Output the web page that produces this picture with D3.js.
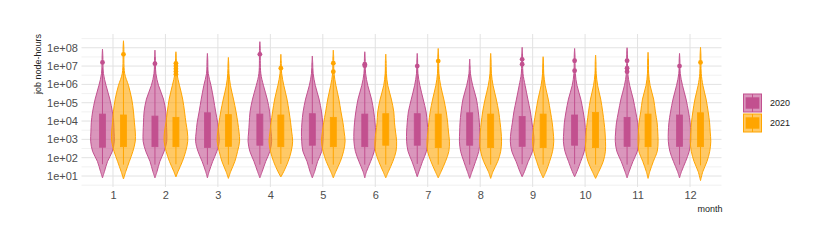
<!DOCTYPE html>
<html>
<head>
<meta charset="utf-8">
<script src="https://cdn.jsdelivr.net/npm/d3@7"></script>
<style>
  html, body { margin: 0; padding: 0; background: #fff; }
  svg { display: block; font-family: "Liberation Sans", Arial, Helvetica, sans-serif; }
</style>
</head>
<body>
<svg id="chart" width="830" height="249"></svg>
<script>
// ---------------- DATA (values are log10 of job node-hours) ----------------
const months = ["1","2","3","4","5","6","7","8","9","10","11","12"];
const years = ["2020","2021"];
const yTickExps = [1,2,3,4,5,6,7,8];
const yTickLabels = ["1e+01","1e+02","1e+03","1e+04","1e+05","1e+06","1e+07","1e+08"];

// density profile levels (log10) and relative half-widths
const levels = [1.25,1.8,2.35,2.9,3.4,3.9,4.5,5.2,5.95,6.6];
const widths2020 = [
  [0.17,0.43,0.84,1.00,0.98,0.95,0.84,0.62,0.30,0.08],
  [0.18,0.42,0.78,1.00,1.00,0.97,0.92,0.72,0.30,0.08],
  [0.15,0.45,0.80,1.00,0.95,0.87,0.70,0.52,0.30,0.07],
  [0.20,0.50,0.85,1.00,0.95,0.90,0.83,0.62,0.30,0.08],
  [0.20,0.45,0.80,0.90,0.92,0.88,0.78,0.57,0.25,0.07],
  [0.15,0.50,0.80,0.92,0.92,0.87,0.76,0.57,0.25,0.07],
  [0.15,0.45,0.78,0.90,0.90,0.85,0.75,0.50,0.22,0.06],
  [0.20,0.50,0.77,0.87,0.85,0.82,0.73,0.57,0.25,0.06],
  [0.20,0.52,0.88,1.00,0.95,0.83,0.70,0.48,0.25,0.07],
  [0.20,0.52,0.82,0.95,0.92,0.87,0.73,0.52,0.20,0.06],
  [0.18,0.50,0.87,1.00,0.97,0.90,0.73,0.52,0.22,0.06],
  [0.17,0.52,0.82,0.95,0.95,0.90,0.76,0.55,0.25,0.06]
];
const widths2021 = [
  [0.20,0.50,0.80,1.00,1.00,0.93,0.85,0.70,0.42,0.10],
  [0.18,0.55,0.83,1.00,0.97,0.85,0.73,0.57,0.30,0.08],
  [0.20,0.55,0.78,0.95,0.90,0.80,0.65,0.43,0.17,0.05],
  [0.25,0.62,0.88,1.00,0.92,0.83,0.70,0.52,0.25,0.07],
  [0.22,0.60,0.87,1.00,0.92,0.82,0.65,0.47,0.22,0.06],
  [0.23,0.60,0.87,0.92,0.83,0.74,0.68,0.47,0.17,0.05],
  [0.25,0.62,0.90,0.95,0.87,0.80,0.68,0.47,0.20,0.06],
  [0.20,0.60,0.85,0.92,0.88,0.80,0.68,0.47,0.20,0.06],
  [0.25,0.55,0.80,0.90,0.85,0.77,0.62,0.43,0.17,0.05],
  [0.28,0.65,0.83,0.84,0.80,0.72,0.60,0.43,0.17,0.05],
  [0.15,0.45,0.78,0.85,0.82,0.77,0.62,0.47,0.17,0.05],
  [0.20,0.55,0.78,0.87,0.82,0.77,0.65,0.47,0.20,0.06]
];
const bottom2020 = [0.90,0.90,0.90,0.90,0.90,0.90,0.96,0.87,0.96,0.96,0.90,0.90];
const top2020    = [7.93,7.87,7.69,8.33,7.55,7.78,7.69,7.38,8.02,7.96,8.00,7.69];
const bottom2021 = [0.84,0.95,0.87,0.95,0.90,0.90,0.90,0.87,0.90,0.87,0.87,0.75];
const top2021    = [8.38,7.78,7.47,7.64,7.87,7.65,7.96,7.69,7.51,7.60,7.75,8.02];

const q1_2020 = [2.57,2.60,2.56,2.68,2.68,2.60,2.68,2.68,2.62,2.68,2.62,2.62];
const q3_2020 = [4.38,4.27,4.45,4.38,4.40,4.38,4.40,4.45,4.25,4.33,4.20,4.33];
const q1_2021 = [2.60,2.60,2.62,2.60,2.60,2.68,2.55,2.55,2.55,2.55,2.60,2.60];
const q3_2021 = [4.33,4.20,4.35,4.33,4.20,4.40,4.38,4.38,4.38,4.47,4.38,4.45];

const whiskLo2020 = [1.64,1.62,1.62,1.62,1.64,1.62,1.66,1.62,1.64,1.64,1.62,1.62];
const whiskHi2020 = [6.90,6.90,6.95,6.90,6.85,6.85,6.80,6.65,6.85,6.60,6.50,6.85];
const whiskLo2021 = [1.62,1.64,1.62,1.66,1.62,1.62,1.62,1.62,1.62,1.62,1.62,1.58];
const whiskHi2021 = [6.95,6.40,6.75,6.70,6.50,6.95,6.95,6.95,6.80,6.90,7.00,6.95];

const outliers2020 = [[7.20],[7.13],[],[7.64],[],[7.02,7.10],[7.00],[],[7.10,7.37],[6.75,7.29],[6.69,6.88,7.29],[7.00]];
const outliers2021 = [[7.64],[6.55,6.70,6.85,7.00,7.15],[],[6.88],[6.69,7.16],[],[7.27],[],[],[],[],[7.20]];

const colors = { "2020": "#C2508F", "2021": "#FFA500" };

// ---------------- LAYOUT ----------------
const svg = d3.select("#chart");
const panel = { left: 81.5, right: 721.5, top: 34, bottom: 187 };

const x = d3.scalePoint().domain(months).range([panel.left, panel.right]).padding(0.6);
const step = x.step();
const xOff = d3.scaleBand().domain(years).range([-0.4 * step, 0.4 * step]);
const maxHalf = 0.225 * step;

const y = d3.scaleLog()
  .domain([Math.pow(10, 0.4), Math.pow(10, 8.75)])
  .range([panel.bottom, panel.top]);
const P = e => y(Math.pow(10, e));

// ---------------- GRID ----------------
const grid = svg.append("g");
const minorExps = [0.5,1.5,2.5,3.5,4.5,5.5,6.5,7.5,8.5];
grid.selectAll("line.minor").data(minorExps).join("line")
  .attr("x1", panel.left).attr("x2", panel.right)
  .attr("y1", d => P(d)).attr("y2", d => P(d))
  .attr("stroke", "#EDEDED").attr("stroke-width", 0.8);
grid.selectAll("line.major").data(yTickExps).join("line")
  .attr("x1", panel.left).attr("x2", panel.right)
  .attr("y1", d => P(d)).attr("y2", d => P(d))
  .attr("stroke", "#E2E2E2").attr("stroke-width", 1);
grid.selectAll("line.v").data(months).join("line")
  .attr("x1", d => x(d)).attr("x2", d => x(d))
  .attr("y1", panel.top).attr("y2", panel.bottom)
  .attr("stroke", "#E2E2E2").attr("stroke-width", 1);

// ---------------- VIOLINS ----------------
function knots(widths, bottom, top) {
  const k = [[bottom, 0]];
  levels.forEach((l, i) => k.push([l, widths[i]]));
  k.push([top - 0.35, 0.03]);
  k.push([top, 0]);
  return k;
}

const series = {
  "2020": { widths: widths2020, bottom: bottom2020, top: top2020, q1: q1_2020, q3: q3_2020,
            wl: whiskLo2020, wh: whiskHi2020, out: outliers2020 },
  "2021": { widths: widths2021, bottom: bottom2021, top: top2021, q1: q1_2021, q3: q3_2021,
            wl: whiskLo2021, wh: whiskHi2021, out: outliers2021 }
};

const violinG = svg.append("g");
months.forEach((m, i) => {
  years.forEach(yr => {
    const s = series[yr];
    const cx = x(m) + xOff(yr) + xOff.bandwidth() / 2;
    const area = d3.area()
      .curve(d3.curveCatmullRom.alpha(0.5))
      .y(d => P(d[0]))
      .x0(d => cx - Math.max(0, d[1]) * maxHalf)
      .x1(d => cx + Math.max(0, d[1]) * maxHalf);
    violinG.append("path")
      .datum(knots(s.widths[i], s.bottom[i], s.top[i]))
      .attr("d", area)
      .attr("fill", colors[yr]).attr("fill-opacity", 0.6)
      .attr("stroke", colors[yr]).attr("stroke-width", 1);
  });
});

// ---------------- BOXPLOTS ----------------
const boxG = svg.append("g");
const boxW = 6;
months.forEach((m, i) => {
  years.forEach(yr => {
    const s = series[yr];
    const cx = x(m) + xOff(yr) + xOff.bandwidth() / 2;
    boxG.append("line")
      .attr("x1", cx).attr("x2", cx)
      .attr("y1", P(s.wl[i])).attr("y2", P(s.q1[i]))
      .attr("stroke", colors[yr]).attr("stroke-width", 1);
    boxG.append("line")
      .attr("x1", cx).attr("x2", cx)
      .attr("y1", P(s.q3[i])).attr("y2", P(s.wh[i]))
      .attr("stroke", colors[yr]).attr("stroke-width", 1);
    boxG.append("rect")
      .attr("x", cx - boxW / 2).attr("width", boxW)
      .attr("y", P(s.q3[i])).attr("height", P(s.q1[i]) - P(s.q3[i]))
      .attr("fill", colors[yr]).attr("stroke", colors[yr]).attr("stroke-width", 0.8);
    boxG.selectAll(null).data(s.out[i]).join("circle")
      .attr("cx", cx).attr("cy", d => P(d)).attr("r", 2.4)
      .attr("fill", colors[yr]);
  });
});

// ---------------- AXES ----------------
const yAxis = d3.axisLeft(y)
  .tickValues(yTickExps.map(e => Math.pow(10, e)))
  .tickFormat((d, i) => yTickLabels[i])
  .tickSize(0).tickPadding(3.5);
const yg = svg.append("g").attr("transform", `translate(${panel.left},0)`).call(yAxis);
yg.select(".domain").remove();
yg.selectAll("text").attr("fill", "#4D4D4D").style("font-size", "11px")
  .style("font-family", '"Liberation Sans", Arial, sans-serif');

const xAxis = d3.axisBottom(x).tickSize(0).tickPadding(4);
const xg = svg.append("g").attr("transform", `translate(0,${panel.bottom})`).call(xAxis);
xg.select(".domain").remove();
xg.selectAll("text").attr("fill", "#4D4D4D").style("font-size", "11px")
  .style("font-family", '"Liberation Sans", Arial, sans-serif');

// axis titles
svg.append("text")
  .attr("transform", `translate(41,${panel.top}) rotate(-90)`)
  .attr("text-anchor", "end")
  .attr("fill", "#222").style("font-size", "9px")
  .text("job node-hours");
svg.append("text")
  .attr("x", panel.right + 1).attr("y", 212)
  .attr("text-anchor", "end")
  .attr("fill", "#222").style("font-size", "9px")
  .text("month");

// ---------------- LEGEND ----------------
const legend = svg.append("g").attr("transform", "translate(743,93.5)");
const keyS = 19;
years.forEach((yr, i) => {
  const g = legend.append("g").attr("transform", `translate(0,${i * (keyS + 1)})`);
  g.append("rect").attr("x", 0.5).attr("y", 0.5).attr("width", keyS - 1).attr("height", keyS - 1)
    .attr("fill", colors[yr]).attr("fill-opacity", 0.6)
    .attr("stroke", colors[yr]).attr("stroke-width", 1);
  g.append("rect").attr("x", keyS * 0.14).attr("y", keyS * 0.2)
    .attr("width", keyS * 0.72).attr("height", keyS * 0.6)
    .attr("fill", colors[yr]);
  g.append("line").attr("x1", keyS / 2).attr("x2", keyS / 2).attr("y1", 0.5).attr("y2", keyS - 0.5)
    .attr("stroke", colors[yr]).attr("stroke-width", 1);
  g.append("text").attr("x", 27).attr("y", keyS / 2).attr("dy", "0.35em")
    .attr("fill", "#222").style("font-size", "9px")
    .text(yr);
});
</script>
</body>
</html>
